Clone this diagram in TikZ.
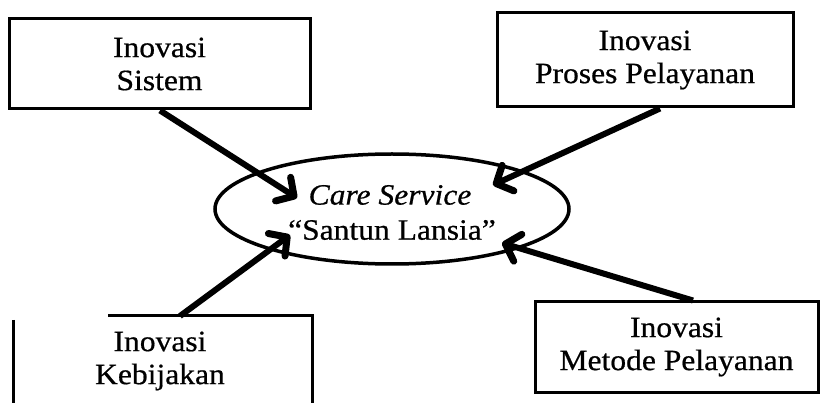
\documentclass[tikz,border=0pt]{standalone}
\usepackage{fontspec}
\setmainfont{Liberation Serif}[FakeStretch=1.07,FakeBold=0.6]
\usetikzlibrary{arrows.meta,shapes.geometric,calc}
\begin{document}
\begin{tikzpicture}[x=1pt,y=-1pt,
  every node/.style={font=\fontsize{29.5}{33}\selectfont, align=center, inner sep=0pt},
  box/.style={draw, line width=3pt, rectangle},
  link/.style={line width=6pt, -{Straight Barb[length=13pt,width=28pt,line width=7pt,round]}},
  frame/.style={line width=3pt}]
\useasboundingbox (0,0) rectangle (822,403);

% boxes
\node[box, minimum width=301pt, minimum height=90pt] (sis) at (159.5,64) {Inovasi\\Sistem};
\node[box, minimum width=296pt, minimum height=94pt] (pro) at (645,60) {Inovasi\\Proses Pelayanan};
\node[box, minimum width=283pt, minimum height=90pt] (met) at (676.5,347) {Inovasi\\Metode Pelayanan};
\node[minimum width=299pt, minimum height=90pt] (keb) at (160,361) {Inovasi\\Kebijakan};
% open frame of the lower-left box
\draw[frame] (108,316) -- (312,316) -- (312,403);
\draw[frame] (13,320) -- (13,403);

% central ellipse
\node[ellipse, draw, line width=3.5pt, minimum width=354pt, minimum height=110pt] (cs) at (392,209) {};
\node (t1) at (390,195) {\itshape Care Service};
\node (t2) at (392,230) {“Santun Lansia”};

% arrow ends
\coordinate (e1) at (297,198);
\coordinate (e2) at (493,185);
\coordinate (e3) at (290,235);
\coordinate (e4) at (502,243);

\draw[link] ($(sis.south)+(0.5,0)$) -- (e1);
\draw[link] ($(pro.south)+(15,0)$) -- (e2);
\draw[link] (180,316) -- (e3);
\draw[link] ($(met.north)+(16.5,0)$) -- (e4);
\end{tikzpicture}
\end{document}
